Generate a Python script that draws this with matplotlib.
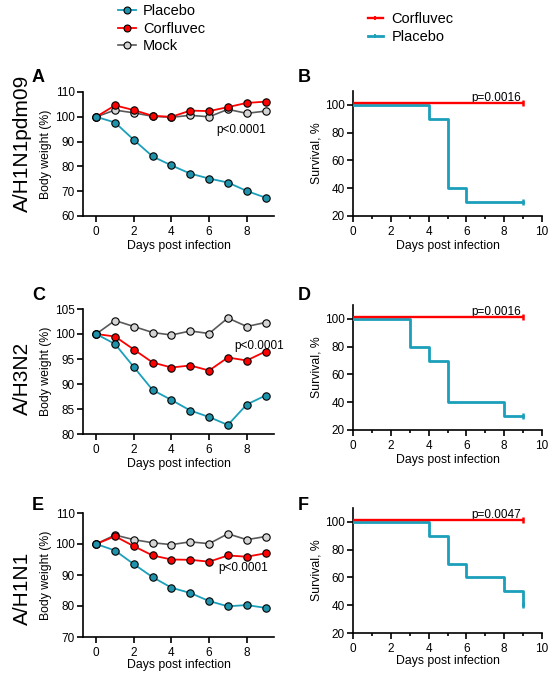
import matplotlib
matplotlib.use("Agg")
import matplotlib.pyplot as plt
from matplotlib.lines import Line2D

plt.rcParams['font.family'] = ['Liberation Sans', 'DejaVu Sans']

days = [0, 1, 2, 3, 4, 5, 6, 7, 8, 9]

# Body weight (%)
h1pdm_placebo = [100, 97.7, 90.7, 84.0, 80.4, 77.1, 75.1, 73.5, 70.1, 67.4]
h1pdm_corfluvec = [100, 104.6, 102.7, 100.4, 100.0, 102.5, 102.3, 103.9, 105.6, 106.1]
h1pdm_mock = [100, 102.7, 101.6, 100.2, 99.8, 100.6, 100.0, 103.0, 101.4, 102.3]

h3n2_placebo = [100, 98.0, 93.4, 88.8, 86.8, 84.7, 83.4, 81.8, 85.9, 87.7]
h3n2_corfluvec = [100, 99.5, 96.9, 94.3, 93.3, 93.7, 92.7, 95.3, 94.7, 96.5]
h3n2_mock = [100, 102.7, 101.5, 100.3, 99.8, 100.6, 100.1, 103.2, 101.5, 102.3]

h1n1_placebo = [100, 97.9, 93.5, 89.3, 85.9, 84.2, 81.6, 79.9, 80.3, 79.4]
h1n1_corfluvec = [100, 102.5, 99.3, 96.3, 95.0, 94.9, 94.3, 96.3, 95.9, 97.0]
h1n1_mock = [100, 102.9, 101.4, 100.4, 99.8, 100.7, 100.1, 103.3, 101.4, 102.4]

# Survival step data (time, %)
surv_time_B = [0, 4, 5, 6, 9]
surv_placebo_B = [100, 90, 40, 30, 30]
surv_time_D = [0, 3, 4, 5, 8, 9]
surv_placebo_D = [100, 80, 70, 40, 30, 30]
surv_time_F = [0, 4, 5, 6, 8, 9]
surv_placebo_F = [100, 90, 70, 60, 50, 40]
surv_corfluvec = 101.5

weight_ylims = [(60, 110, [60, 70, 80, 90, 100, 110]),
                (80, 105, [80, 85, 90, 95, 100, 105]),
                (70, 110, [70, 80, 90, 100, 110])]
p_weight = ['p<0.0001', 'p<0.0001', 'p<0.0001']
p_surv = ['p=0.0016', 'p=0.0016', 'p=0.0047']
row_labels = ['A/H1N1pdm09', 'A/H3N2', 'A/H1N1']
letters = [('A', 'B'), ('C', 'D'), ('E', 'F')]

TEAL = '#1b9fba'
TEAL_FACE = '#1f93ab'
RED = '#ff0000'
GRAY_LINE = '#5a5a5a'
GRAY_FACE = '#d4d4d4'

fig = plt.figure(figsize=(5.5, 6.73), dpi=100)

W = 550.0
H = 673.0
def box(l, r, t, b):
    return [l / W, 1 - b / H, (r - l) / W, (b - t) / H]

weight_boxes = [box(83, 274, 92, 216), box(83, 274, 309, 434), box(83, 274, 513, 637)]
surv_boxes = [box(353, 542, 91, 216), box(353, 542, 305, 430), box(353, 542, 508, 633)]
xlabel_pads = [1.5, 1.5, 0.3]

weights = [(h1pdm_placebo, h1pdm_corfluvec, h1pdm_mock),
           (h3n2_placebo, h3n2_corfluvec, h3n2_mock),
           (h1n1_placebo, h1n1_corfluvec, h1n1_mock)]
survs = [(surv_time_B, surv_placebo_B), (surv_time_D, surv_placebo_D), (surv_time_F, surv_placebo_F)]

p_weight_pos = [(9.05, 94.8), (10.0, 97.5), (9.15, 92.2)]

def style(ax):
    for s in ['top', 'right']:
        ax.spines[s].set_visible(False)
    for s in ['left', 'bottom']:
        ax.spines[s].set_linewidth(1.2)
    ax.tick_params(axis='both', labelsize=8.5, width=1.2, length=4, pad=2)
    ax.tick_params(axis='x', pad=3)
    ax.tick_params(which='minor', width=1.2, length=2.5)

for i in range(3):
    ax = fig.add_axes(weight_boxes[i])
    pl, cf, mk = weights[i]
    ax.plot(days, mk, '-o', color=GRAY_LINE, mfc=GRAY_FACE, mec='black', ms=5.3, mew=0.8, lw=1.2, zorder=3)
    ax.plot(days, cf, '-o', color=RED, mfc=RED, mec='black', ms=5.3, mew=0.8, lw=1.3, zorder=4)
    ax.plot(days, pl, '-o', color=TEAL, mfc=TEAL_FACE, mec='black', ms=5.3, mew=0.8, lw=1.3, zorder=5)
    lo, hi, ticks = weight_ylims[i]
    ax.set_ylim(lo, hi)
    ax.set_yticks(ticks)
    ax.set_xlim(-0.7, 9.45)
    ax.set_xticks([0, 2, 4, 6, 8])
    ax.set_ylabel('Body weight (%)', fontsize=8.8, labelpad=2)
    ax.set_xlabel('Days post infection', fontsize=8.8, labelpad=xlabel_pads[i])
    style(ax)
    ax.text(p_weight_pos[i][0], p_weight_pos[i][1], p_weight[i], fontsize=8.5, ha='right', va='center', clip_on=False)

    axs = fig.add_axes(surv_boxes[i])
    t, s = survs[i]
    axs.step(t, s, where='post', color=TEAL, lw=2.0, zorder=3)
    axs.plot([t[-1]], [s[-1]], marker='|', color=TEAL, ms=4, mew=1.8, zorder=3)
    axs.plot([0, 9], [surv_corfluvec, surv_corfluvec], color=RED, lw=1.7, zorder=4)
    axs.plot([9], [surv_corfluvec], marker='|', color=RED, ms=4, mew=1.8, zorder=4)
    axs.set_xlim(0, 10)
    axs.set_ylim(20, 110)
    axs.set_xticks([0, 2, 4, 6, 8, 10])
    axs.set_xticks([1, 3, 5, 7, 9], minor=True)
    axs.set_yticks([20, 40, 60, 80, 100])
    axs.set_ylabel('Survival, %', fontsize=8.8, labelpad=2)
    axs.set_xlabel('Days post infection', fontsize=8.8, labelpad=xlabel_pads[i])
    style(axs)
    axs.text(7.55, 105, p_surv[i], fontsize=8.5, ha='center', va='center')

# panel letters
letter_y = [78, 295, 505]
for i in range(3):
    fig.text(32 / W, 1 - letter_y[i] / H, letters[i][0], fontsize=13, fontweight='bold', ha='left', va='center')
    fig.text(298 / W, 1 - letter_y[i] / H, letters[i][1], fontsize=13, fontweight='bold', ha='left', va='center')

# row labels
row_y = [143, 378, 588]
for i in range(3):
    fig.text(22 / W, 1 - row_y[i] / H, row_labels[i], fontsize=15, rotation=90, ha='center', va='center')

# legends
h_pl = Line2D([], [], color=TEAL, marker='o', mfc=TEAL_FACE, mec='black', ms=5, mew=0.8, lw=1.3)
h_cf = Line2D([], [], color=RED, marker='o', mfc=RED, mec='black', ms=5, mew=0.8, lw=1.3)
h_mk = Line2D([], [], color=GRAY_LINE, marker='o', mfc=GRAY_FACE, mec='black', ms=5, mew=0.8, lw=1.2)
fig.legend([h_pl, h_cf, h_mk], ['Placebo', 'Corfluvec', 'Mock'], loc='upper left',
           bbox_to_anchor=(118 / W, 1 - 4 / H), frameon=False, fontsize=10.5, handlelength=1.2,
           handletextpad=0.5, labelspacing=0.25, borderaxespad=0.0, borderpad=0.0)

s_cf = Line2D([], [], color=RED, lw=1.7, marker='|', ms=3, mew=1.3)
s_pl = Line2D([], [], color=TEAL, lw=2.0, marker='|', ms=3, mew=1.3)
fig.legend([s_cf, s_pl], ['Corfluvec', 'Placebo'], loc='upper left',
           bbox_to_anchor=(368 / W, 1 - 12 / H), frameon=False, fontsize=10.5, handlelength=1.0,
           handletextpad=0.6, labelspacing=0.25, borderaxespad=0.0, borderpad=0.0)

fig.savefig('out.png', dpi=100)
